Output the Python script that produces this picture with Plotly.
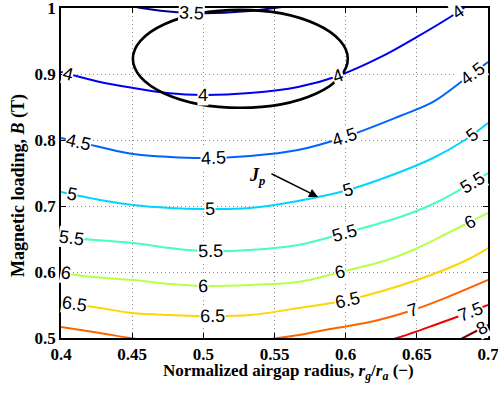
import numpy as np
import plotly.graph_objects as go

# ---- data (contour lines of J_p) ----
levels = [3.5, 4, 4.5, 5, 5.5, 6, 6.5, 7, 7.5, 8]

x_35 = [0.44, 0.45, 0.47, 0.50, 0.53, 0.56, 0.58]
y_35 = [1.012, 1.003, 0.996, 0.992, 0.995, 1.003, 1.010]

x_40 = [0.4, 0.4274, 0.4506, 0.4745, 0.4998, 0.5328, 0.5665, 0.5946, 0.6248, 0.6501, 0.6789, 0.6874]
y_40 = [0.903, 0.8879, 0.8788, 0.8712, 0.8682, 0.8712, 0.8803, 0.897, 0.9258, 0.9561, 0.9939, 1.0076]

x_45 = [0.4, 0.4274, 0.4506, 0.4766, 0.4998, 0.5328, 0.5665, 0.5995, 0.6382, 0.6614, 0.6838, 0.7]
y_45 = [0.803, 0.7894, 0.7788, 0.7742, 0.7727, 0.7758, 0.7848, 0.8045, 0.8364, 0.8576, 0.8924, 0.9182]

x_50 = [0.4, 0.4274, 0.4506, 0.4766, 0.4998, 0.5328, 0.5665, 0.6016, 0.6382, 0.6614, 0.6838, 0.7]
y_50 = [0.7212, 0.7091, 0.7015, 0.697, 0.6955, 0.697, 0.7076, 0.7242, 0.7515, 0.7727, 0.8, 0.8258]

x_55 = [0.4, 0.4155, 0.4506, 0.4766, 0.4998, 0.5328, 0.5665, 0.5995, 0.6382, 0.6614, 0.6838, 0.7]
y_55 = [0.6545, 0.65, 0.6439, 0.6364, 0.6318, 0.6333, 0.6409, 0.6591, 0.6833, 0.703, 0.7288, 0.75]

x_60 = [0.4, 0.4155, 0.4506, 0.4766, 0.4998, 0.5328, 0.5665, 0.5967, 0.629, 0.6473, 0.6719, 0.7]
y_60 = [0.6, 0.5939, 0.5879, 0.5818, 0.5788, 0.5803, 0.5848, 0.6, 0.6182, 0.6333, 0.6591, 0.6894]

x_65 = [0.4, 0.4274, 0.4499, 0.4766, 0.4991, 0.5328, 0.5714, 0.6016, 0.6501, 0.6852, 0.7]
y_65 = [0.5545, 0.5455, 0.5379, 0.5348, 0.5333, 0.5348, 0.547, 0.5576, 0.5879, 0.6182, 0.6364]

x_70 = [0.4, 0.4274, 0.4485, 0.4766, 0.4998, 0.5258, 0.5525, 0.5714, 0.589, 0.6171, 0.6473, 0.6733, 0.7]
y_70 = [0.5167, 0.5076, 0.5, 0.4924, 0.4894, 0.4924, 0.5, 0.5061, 0.5136, 0.5242, 0.5424, 0.5636, 0.5879]

x_75 = [0.6171, 0.6361, 0.6663, 0.6838, 0.7]
y_75 = [0.4894, 0.5, 0.5227, 0.5364, 0.55]

x_80 = [0.6663, 0.6824, 0.7]
y_80 = [0.4818, 0.5, 0.5197]

curves_x = [x_35, x_40, x_45, x_50, x_55, x_60, x_65, x_70, x_75, x_80]
curves_y = [y_35, y_40, y_45, y_50, y_55, y_60, y_65, y_70, y_75, y_80]

# where the inline level labels sit (x positions along each line)
label_x = [
    [0.492],
    [0.405, 0.4998, 0.5946, 0.6789],
    [0.412, 0.5068, 0.5995, 0.6888],
    [0.4077, 0.5047, 0.6016, 0.6888],
    [0.4077, 0.5047, 0.5995, 0.6888],
    [0.4035, 0.4998, 0.596, 0.6874],
    [0.4098, 0.5061, 0.6016],
    [0.6473],
    [0.6874],
    [0.6958],
]

x_ticks = [0.4, 0.45, 0.5, 0.55, 0.6, 0.65, 0.7]
x_tick_text = ["0.4", "0.45", "0.5", "0.55", "0.6", "0.65", "0.7"]
y_ticks = [0.5, 0.6, 0.7, 0.8, 0.9, 1.0]
y_tick_text = ["0.5", "0.6", "0.7", "0.8", "0.9", "1"]

# highlighted region (ellipse)
ell_cx, ell_cy, ell_rx, ell_ry = 0.526, 0.923, 0.0755, 0.0742
# J_p pointer
jp_head = (0.5806, 0.7136)
jp_tail = (0.5468, 0.750)
jp_text = (0.5375, 0.745)

# ---- style ----
colors = ["#000080", "#0000f1", "#0063ff", "#00d4ff", "#47ffb8",
          "#b8ff47", "#ffd400", "#ff6300", "#f10000", "#800000"]
W, H = 498, 393
ML, MR, MT, MB = 61, 10, 8, 55
PW, PH = W - ML - MR, H - MT - MB
XR, YR = (0.4, 0.7), (0.5, 1.0)
sx = PW / (XR[1] - XR[0])
sy = PH / (YR[1] - YR[0])

serif = "Liberation Serif, Times New Roman, serif"
sans = "Liberation Sans, Arial, Helvetica, sans-serif"

fig = go.Figure()
for lv, cx, cy, col in zip(levels, curves_x, curves_y, colors):
    fig.add_trace(go.Scatter(x=cx, y=cy, mode="lines",
                             line=dict(color=col, width=2, shape="spline", smoothing=1.0),
                             hoverinfo="skip", showlegend=False))

annotations = []
for lv, cx, cy, lxs in zip(levels, curves_x, curves_y, label_x):
    txt = ("%g" % lv)
    for lx in lxs:
        ly = float(np.interp(lx, cx, cy))
        h = 0.004
        slope = (np.interp(lx + h, cx, cy) - np.interp(lx - h, cx, cy)) / (2 * h)
        ang = -np.degrees(np.arctan(slope * sy / sx))
        annotations.append(dict(x=lx, y=ly, xref="x", yref="y", text=txt, showarrow=False,
                                font=dict(family=sans, size=18, color="black"),
                                textangle=float(ang), bgcolor="white", borderpad=0,
                                xanchor="center", yanchor="middle"))

# J_p arrow
annotations.append(dict(x=jp_head[0], y=jp_head[1], ax=jp_tail[0], ay=jp_tail[1],
                        xref="x", yref="y", axref="x", ayref="y", text="",
                        showarrow=True, arrowhead=2, arrowsize=1.3, arrowwidth=1.4,
                        arrowcolor="black", standoff=0))
annotations.append(dict(x=jp_text[0], y=jp_text[1], xref="x", yref="y",
                        text="<b><i>J</i></b><sub><b><i>p</i></b></sub>", showarrow=False,
                        font=dict(family=serif, size=18, color="black"),
                        xanchor="center", yanchor="middle"))

# axis titles
annotations.append(dict(x=(288 - ML) / PW, y=(MT + PH - 359) / PH, xref="paper", yref="paper",
                        text="<b>Normalized airgap radius, <i>r</i><sub><i>g</i></sub>/<i>r</i><sub><i>a</i></sub> (\u2212)</b>",
                        showarrow=False, font=dict(family=serif, size=17, color="black"),
                        xanchor="center", yanchor="top"))
annotations.append(dict(x=(19 - ML) / PW, y=(MT + PH - 186) / PH, xref="paper", yref="paper",
                        text="<b>Magnetic loading, <i>B</i> (T)</b>", textangle=-90,
                        showarrow=False, font=dict(family=serif, size=18, color="black"),
                        xanchor="center", yanchor="middle"))

shapes = [dict(type="circle", xref="x", yref="y",
               x0=ell_cx - ell_rx, x1=ell_cx + ell_rx, y0=ell_cy - ell_ry, y1=ell_cy + ell_ry,
               line=dict(color="black", width=2.6))]

axis_common = dict(showgrid=True, gridcolor="#8a8a8a", griddash="1px,3px", gridwidth=1,
                   zeroline=False, showline=True, linecolor="black", linewidth=1.5,
                   mirror="ticks", ticks="inside", ticklen=5, tickcolor="black", tickwidth=1,
                   ticklabeloverflow="allow", automargin=False,
                   tickfont=dict(family=serif, size=17, color="black", weight="bold"))

fig.update_layout(
    width=W, height=H, margin=dict(l=ML, r=MR, t=MT, b=MB, autoexpand=False),
    paper_bgcolor="white", plot_bgcolor="white",
    xaxis=dict(range=list(XR), tickvals=x_ticks, ticktext=x_tick_text, **axis_common),
    yaxis=dict(range=list(YR), tickvals=y_ticks, ticktext=y_tick_text, **axis_common),
    annotations=annotations, shapes=shapes, showlegend=False,
)

fig.write_html("out.html")
